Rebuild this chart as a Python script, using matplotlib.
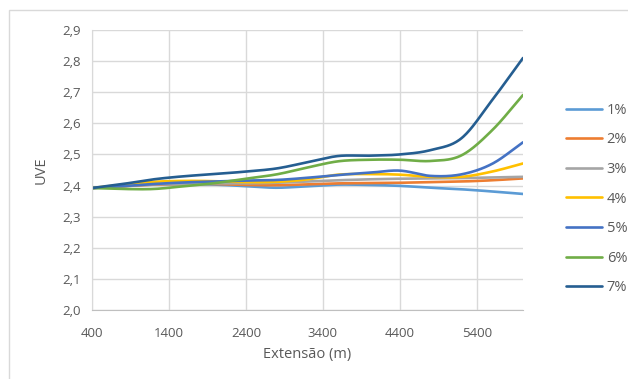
import numpy as np
import matplotlib
matplotlib.use('Agg')
import matplotlib.pyplot as plt
from matplotlib.patches import Rectangle
from matplotlib.ticker import FuncFormatter

# Extensão (m) e valores de UVE por declividade
extensao = [400, 800, 1200, 1600, 2000, 2400, 2800, 3200, 3600, 4000, 4400, 4800, 5200, 5600, 6000]

uve_1 = [2.392, 2.398, 2.403, 2.404, 2.403, 2.398, 2.393, 2.398, 2.403, 2.402, 2.399, 2.393, 2.388, 2.381, 2.373]
uve_2 = [2.392, 2.398, 2.403, 2.405, 2.405, 2.402, 2.401, 2.404, 2.407, 2.408, 2.409, 2.411, 2.413, 2.417, 2.423]
uve_3 = [2.392, 2.399, 2.404, 2.406, 2.407, 2.407, 2.409, 2.413, 2.417, 2.420, 2.422, 2.423, 2.424, 2.426, 2.428]
uve_4 = [2.392, 2.403, 2.412, 2.415, 2.414, 2.411, 2.412, 2.420, 2.435, 2.437, 2.435, 2.428, 2.428, 2.445, 2.471]
uve_5 = [2.392, 2.398, 2.405, 2.410, 2.413, 2.416, 2.418, 2.425, 2.434, 2.441, 2.448, 2.431, 2.436, 2.470, 2.539]
uve_6 = [2.392, 2.389, 2.389, 2.398, 2.408, 2.422, 2.436, 2.458, 2.478, 2.483, 2.483, 2.479, 2.497, 2.578, 2.691]
uve_7 = [2.392, 2.405, 2.420, 2.430, 2.437, 2.445, 2.455, 2.475, 2.495, 2.496, 2.500, 2.514, 2.552, 2.675, 2.810]

series = [uve_1, uve_2, uve_3, uve_4, uve_5, uve_6, uve_7]
rotulos = ['1%', '2%', '3%', '4%', '5%', '6%', '7%']
cores = ['#5B9BD5', '#ED7D31', '#A5A5A5', '#FFC000', '#4472C4', '#70AD47', '#255E91']


def suaviza(x, y, n=30):
    # curva Catmull-Rom passando pelos pontos (linha suavizada)
    x = np.asarray(x, float)
    y = np.asarray(y, float)
    px = np.concatenate([[2 * x[0] - x[1]], x, [2 * x[-1] - x[-2]]])
    py = np.concatenate([[2 * y[0] - y[1]], y, [2 * y[-1] - y[-2]]])
    t = np.linspace(0, 1, n, endpoint=False)
    xs, ys = [], []
    for i in range(1, len(px) - 2):
        for p, out in ((px, xs), (py, ys)):
            p0, p1, p2, p3 = p[i - 1], p[i], p[i + 1], p[i + 2]
            out.append(0.5 * (2 * p1 + (-p0 + p2) * t + (2 * p0 - 5 * p1 + 4 * p2 - p3) * t ** 2
                              + (-p0 + 3 * p1 - 3 * p2 + p3) * t ** 3))
    xs.append([x[-1]])
    ys.append([y[-1]])
    return np.concatenate(xs), np.concatenate(ys)


plt.rcParams['font.family'] = ['Open Sans', 'DejaVu Sans']
texto = '#595959'
grade = '#D9D9D9'

fig = plt.figure(figsize=(6.28, 3.79), dpi=100)
fig.patches.append(Rectangle((9 / 628, -0.2), 1.2, 0.2 + (1 - 10 / 379), transform=fig.transFigure,
                             fill=False, edgecolor=grade, linewidth=1.0))
ax = fig.add_axes([92 / 628, 1 - 310 / 379, (523 - 92) / 628, 280 / 379])

for y, rot, cor in zip(series, rotulos, cores):
    xs, ys = suaviza(extensao, y)
    ax.plot(xs, ys, color=cor, linewidth=1.9, label=rot, solid_capstyle='round')

ax.set_xlim(400, 6000)
ax.set_ylim(2.0, 2.9)
ax.set_xticks(np.arange(400, 6000, 1000))
ax.set_yticks(np.arange(2.0, 2.91, 0.1))
ax.yaxis.set_major_formatter(FuncFormatter(lambda v, p: f'{v:.1f}'.replace('.', ',')))
ax.grid(True, color=grade, linewidth=1.0)
ax.set_axisbelow(True)
for s in ['top', 'right']:
    ax.spines[s].set_visible(False)
ax.spines['left'].set_color(grade)
ax.spines['bottom'].set_color('#BFBFBF')
ax.tick_params(length=0, labelsize=9.5, colors=texto)
ax.tick_params(axis='y', pad=8)
ax.tick_params(axis='x', pad=12)

ax.set_xlabel('Extensão (m)', fontsize=10.5, color=texto, labelpad=5)
ax.set_ylabel('UVE', fontsize=10.5, color=texto, labelpad=10)

leg = ax.legend(loc='upper left', bbox_to_anchor=(560 / 628, 1 - 97 / 379), bbox_transform=fig.transFigure,
                frameon=False, fontsize=10.5, handlelength=2.5, labelspacing=1.0, handletextpad=0.3,
                borderaxespad=0)
for t in leg.get_texts():
    t.set_color(texto)

fig.savefig('out.png', dpi=100)
